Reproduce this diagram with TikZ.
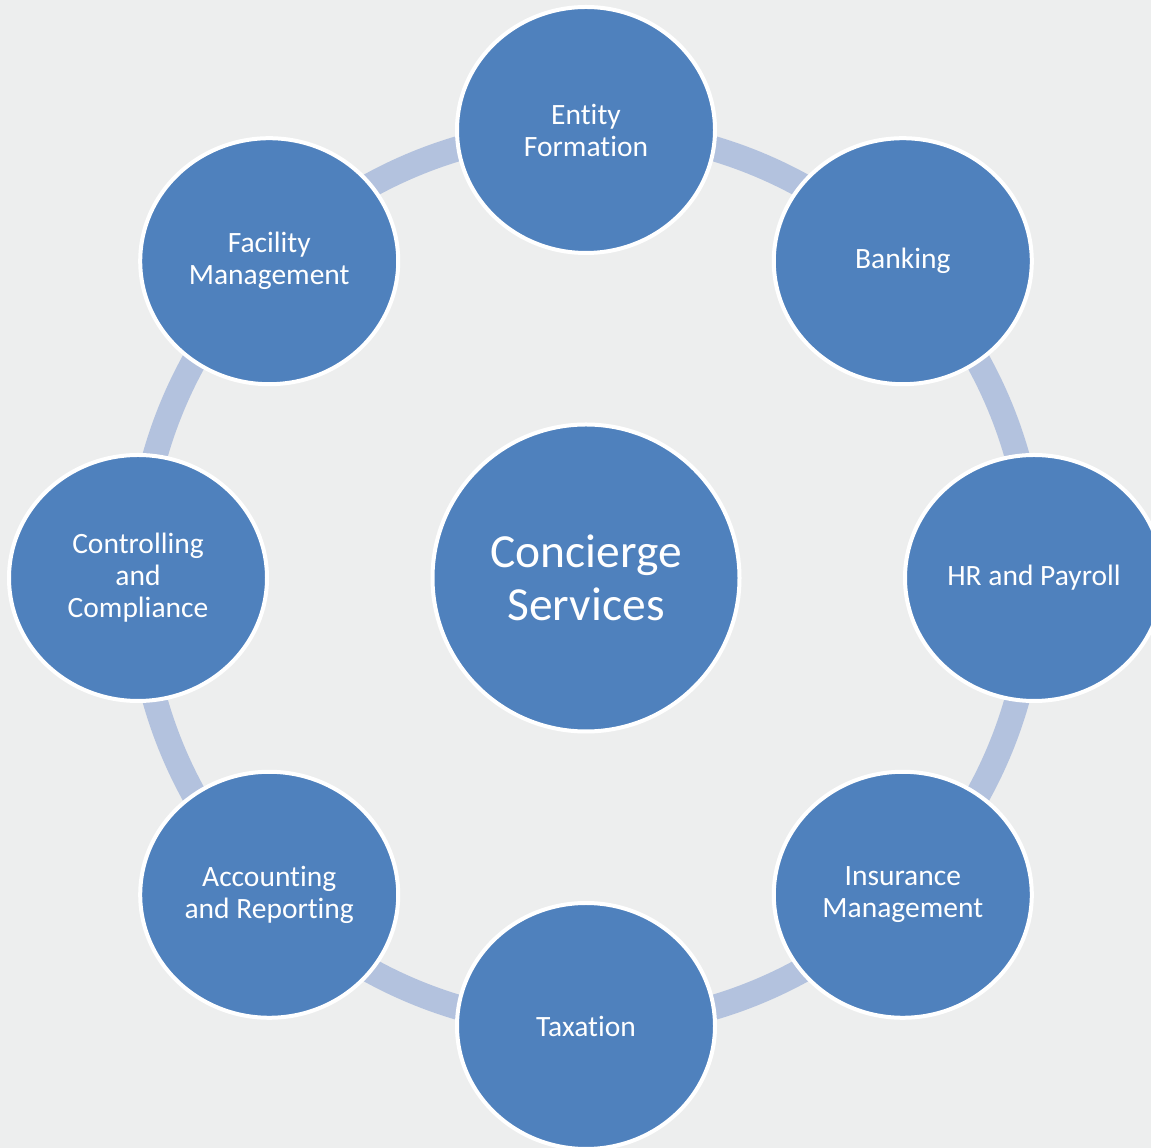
\documentclass[tikz,border=0pt]{standalone}
\usepackage{fontspec}
\setmainfont[Ligatures={NoCommon}]{Carlito}
\usetikzlibrary{shapes.geometric,backgrounds}
\definecolor{bgc}{HTML}{EDEEEE}
\definecolor{blu}{HTML}{4F81BD}
\definecolor{ringc}{HTML}{B3C2DE}
\tikzset{
  outer/.style={ellipse, minimum width=258pt, minimum height=246pt, inner sep=0pt,
    fill=blu, draw=white, line width=4pt, text=white, align=center,
    font=\fontsize{29.5}{32}\selectfont},
  hub/.style={circle, minimum size=307pt, inner sep=0pt, fill=blu, draw=white,
    line width=4pt, text=white, align=center, font=\fontsize{47.5}{53}\selectfont},
  ring/.style={ringc, line width=25pt}
}
\begin{document}
\begin{tikzpicture}[x=1pt,y=1pt]
\useasboundingbox (0,0) rectangle (1151,1148);
\coordinate (O) at (586,570);
\node[hub] (cs) at (O) {Concierge\\Services};
\node[outer] (ef) at ([shift={(90:448)}]O) {Entity\\Formation};
\node[outer] (bk) at ([shift={(45:448)}]O) {Banking};
\node[outer] (hr) at ([shift={(0:448)}]O) {HR and Payroll};
\node[outer] (im) at ([shift={(-45:448)}]O) {Insurance\\Management};
\node[outer] (tx) at ([shift={(-90:448)}]O) {Taxation};
\node[outer] (ar) at ([shift={(-135:448)}]O) {Accounting\\and Reporting};
\node[outer] (cc) at ([shift={(180:448)}]O) {Controlling\\and\\Compliance};
\node[outer] (fm) at ([shift={(135:448)}]O) {Facility\\Management};
\begin{scope}[on background layer]
  \fill[bgc] (0,0) rectangle (1151,1148);
  \draw[ring] (ef.center) arc[start angle=90, end angle=45, radius=448];
  \draw[ring] (bk.center) arc[start angle=45, end angle=0, radius=448];
  \draw[ring] (hr.center) arc[start angle=0, end angle=-45, radius=448];
  \draw[ring] (im.center) arc[start angle=-45, end angle=-90, radius=448];
  \draw[ring] (tx.center) arc[start angle=-90, end angle=-135, radius=448];
  \draw[ring] (ar.center) arc[start angle=-135, end angle=-180, radius=448];
  \draw[ring] (cc.center) arc[start angle=180, end angle=135, radius=448];
  \draw[ring] (fm.center) arc[start angle=135, end angle=90, radius=448];
\end{scope}
\end{tikzpicture}
\end{document}
